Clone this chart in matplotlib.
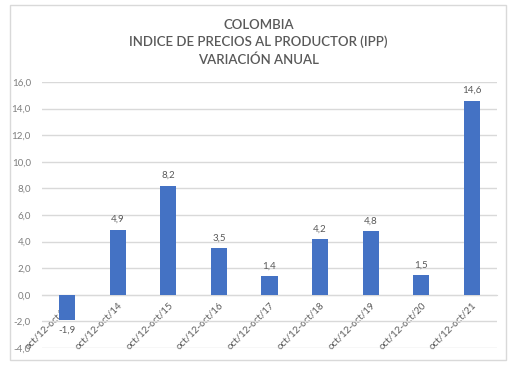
import matplotlib.pyplot as plt
from matplotlib.patches import Rectangle

# IPP Colombia, variación anual (oct/12 - oct/XX)
periods = ["oct/12-oct/13", "oct/12-oct/14", "oct/12-oct/15", "oct/12-oct/16",
           "oct/12-oct/17", "oct/12-oct/18", "oct/12-oct/19", "oct/12-oct/20",
           "oct/12-oct/21"]
values = [-1.9, 4.9, 8.2, 3.5, 1.4, 4.2, 4.8, 1.5, 14.6]
yticks = [-4, -2, 0, 2, 4, 6, 8, 10, 12, 14, 16]

BAR = "#4472C4"
TXT = "#595959"
GRID = "#D9D9D9"

plt.rcParams["font.family"] = ["Lato", "DejaVu Sans"]

fig = plt.figure(figsize=(5.17, 3.71), dpi=100)
fig.patches.append(Rectangle((10 / 517, 1 - 360 / 371), 496 / 517, 355 / 371,
                             transform=fig.transFigure, fill=False,
                             edgecolor=GRID, linewidth=1))

fig.text(0.5, 1 - 19 / 371, "COLOMBIA\nINDICE DE PRECIOS AL PRODUCTOR (IPP)\nVARIACIÓN ANUAL",
         ha="center", va="top", fontsize=9.5, color=TXT, linespacing=1.45,
         fontweight="semibold")

ax = fig.add_axes([42 / 517, 1 - 348 / 371, 455 / 517, 266 / 371])
x = range(len(values))
ax.bar(x, values, width=0.32, color=BAR, zorder=3)

ax.set_xlim(-0.5, len(values) - 0.5)
ax.set_ylim(-4, 16)
ax.set_yticks(yticks)
ax.set_yticklabels([f"{v:.1f}".replace(".", ",") for v in yticks])
ax.yaxis.grid(True, color=GRID, linewidth=1, zorder=0)

for s in ["top", "right", "left"]:
    ax.spines[s].set_visible(False)
ax.spines["bottom"].set_position(("data", 0))
ax.spines["bottom"].set_color(GRID)

ax.set_xticks(list(x))
ax.set_xticklabels(periods, rotation=45, ha="right", va="top",
                   rotation_mode="anchor", fontsize=7, color=TXT)
ax.tick_params(axis="x", length=0, pad=4)
ax.tick_params(axis="y", length=0, labelsize=7, labelcolor="#7F7F7F", pad=8)

for xi, v in zip(x, values):
    lbl = f"{v:.1f}".replace(".", ",")
    if v >= 0:
        ax.annotate(lbl, (xi, v), xytext=(0, 4), textcoords="offset points",
                    ha="center", va="bottom", fontsize=7, color=TXT)
    else:
        ax.annotate(lbl, (xi, v), xytext=(0, -4), textcoords="offset points",
                    ha="center", va="top", fontsize=7, color=TXT)

fig.savefig("out.png", dpi=100)
